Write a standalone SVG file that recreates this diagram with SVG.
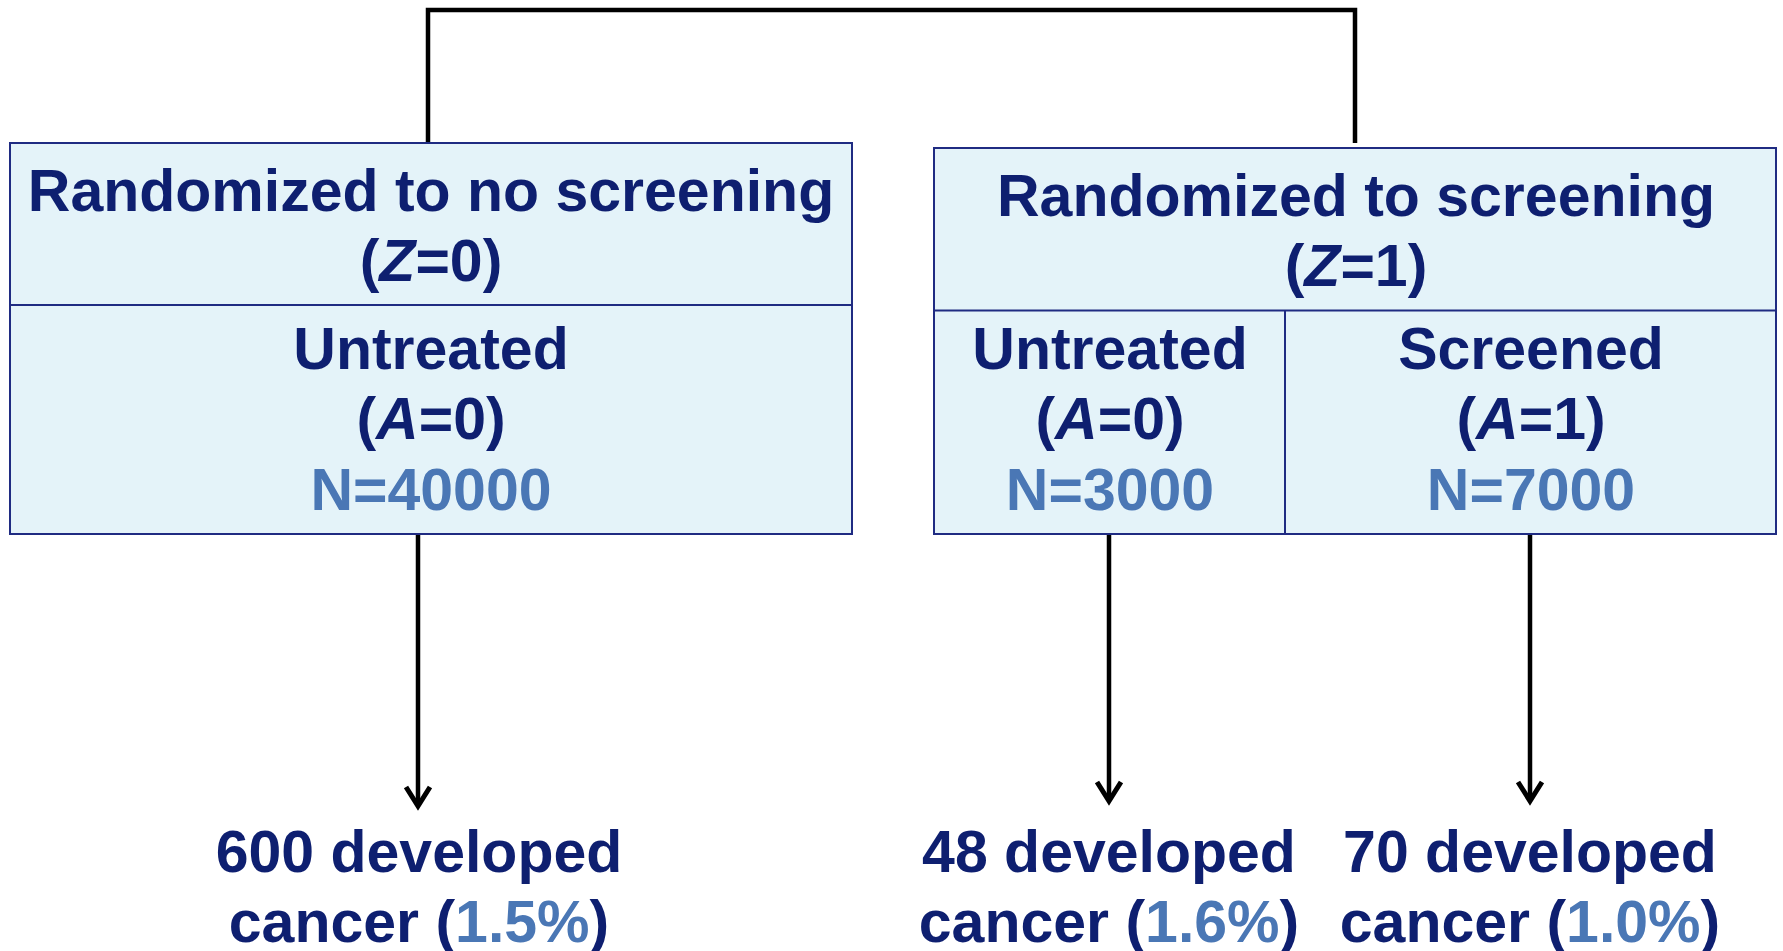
<svg xmlns="http://www.w3.org/2000/svg" width="1783" height="951" viewBox="0 0 1783 951">
<style>
.box{fill:#E4F3F9;stroke:#1F2B82;stroke-width:2}
.div{stroke:#1F2B82;stroke-width:2;fill:none}
.t{font-family:"Liberation Sans",Arial,sans-serif;font-weight:bold;font-size:59px;fill:#0E1F70;text-anchor:middle}
.lb{fill:#4A77B5}
.it{font-style:italic}
.con{stroke:#000;stroke-width:4.5;fill:none}
.head{stroke:#000;stroke-width:5;fill:none;stroke-linejoin:miter;stroke-linecap:butt}
</style>
<rect width="1783" height="951" fill="#fff"/>
<g id="connectors">
<path class="con" d="M428,143 V10 H1355 V143"/>
<line class="con" x1="418" y1="534" x2="418" y2="804"/>
<path class="head" d="M406,787 L418,806 L430,787"/>
<line class="con" x1="1109" y1="534" x2="1109" y2="799"/>
<path class="head" d="M1097,782 L1109,801 L1121,782"/>
<line class="con" x1="1530" y1="534" x2="1530" y2="799"/>
<path class="head" d="M1518,782 L1530,801 L1542,782"/>
</g>
<g id="node-no-screening">
<rect class="box" x="10" y="143" width="842" height="391"/>
<line class="div" x1="10" y1="305" x2="852" y2="305"/>
<text class="t" x="431" y="211">Randomized to no screening</text>
<text class="t" x="431" y="281">(<tspan class="it">Z</tspan>=0)</text>
<text class="t" x="431" y="369">Untreated</text>
<text class="t" x="431" y="439">(<tspan class="it">A</tspan>=0)</text>
<text class="t lb" x="431" y="510">N=40000</text>
</g>
<g id="node-screening">
<rect class="box" x="934" y="148" width="842" height="386"/>
<line class="div" x1="934" y1="310.5" x2="1776" y2="310.5"/>
<line class="div" x1="1285" y1="310.5" x2="1285" y2="534"/>
<text class="t" x="1356" y="216">Randomized to screening</text>
<text class="t" x="1356" y="286">(<tspan class="it">Z</tspan>=1)</text>
</g>
<g id="node-screening-untreated">
<text class="t" x="1110" y="369">Untreated</text>
<text class="t" x="1110" y="439">(<tspan class="it">A</tspan>=0)</text>
<text class="t lb" x="1110" y="510">N=3000</text>
</g>
<g id="node-screened">
<text class="t" x="1531" y="369">Screened</text>
<text class="t" x="1531" y="439">(<tspan class="it">A</tspan>=1)</text>
<text class="t lb" x="1531" y="510">N=7000</text>
</g>
<g id="outcome-1">
<text class="t" x="419" y="872">600 developed</text>
<text class="t" x="419" y="942">cancer (<tspan class="lb">1.5%</tspan>)</text>
</g>
<g id="outcome-2">
<text class="t" x="1109" y="872">48 developed</text>
<text class="t" x="1109" y="942">cancer (<tspan class="lb">1.6%</tspan>)</text>
</g>
<g id="outcome-3">
<text class="t" x="1530" y="872">70 developed</text>
<text class="t" x="1530" y="942">cancer (<tspan class="lb">1.0%</tspan>)</text>
</g>
</svg>
